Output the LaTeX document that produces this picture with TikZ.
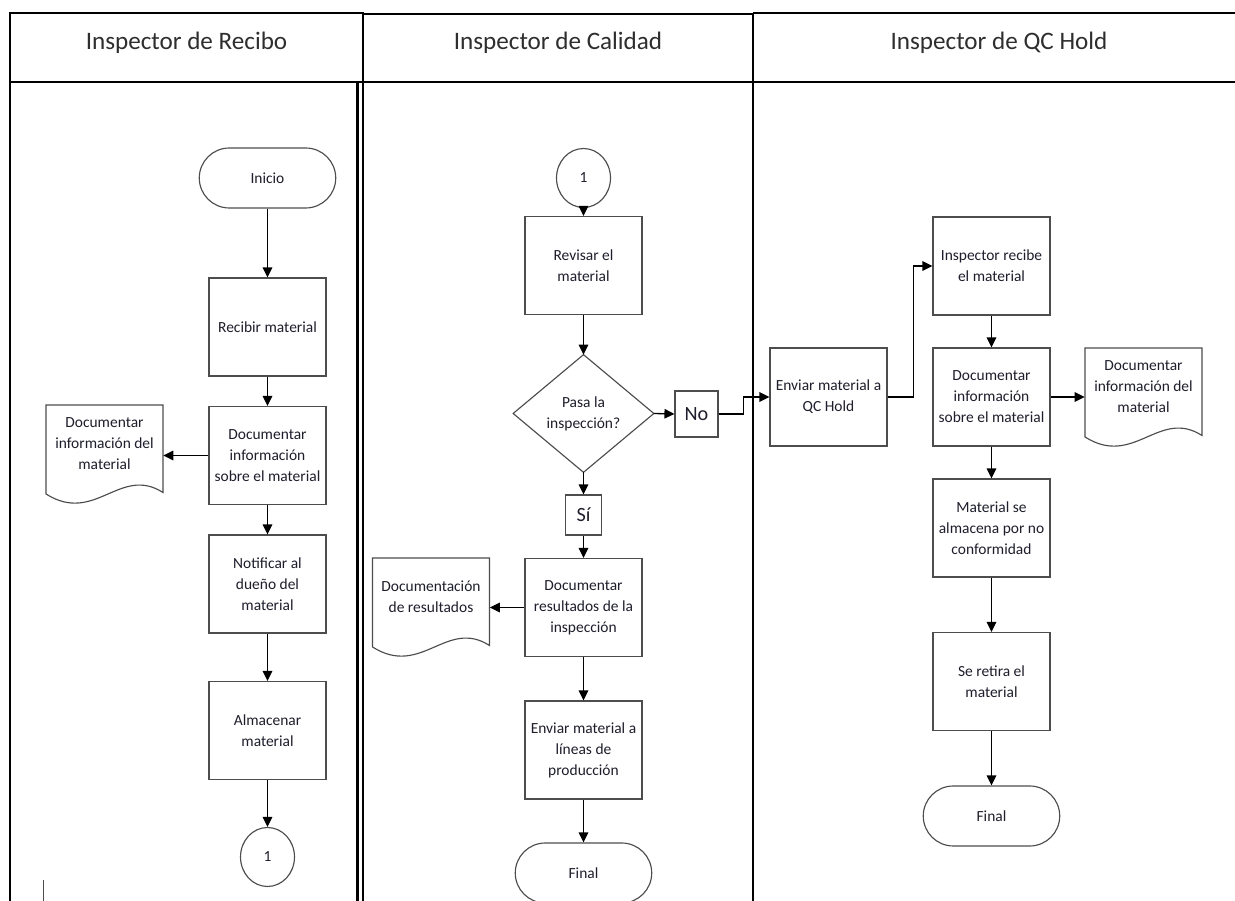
\documentclass[tikz,border=0pt]{standalone}
\usepackage{fontspec}
\setmainfont{Carlito}
\usetikzlibrary{shapes.geometric,shapes.misc,arrows.meta}
\definecolor{boxgray}{HTML}{4D4D4D}
\definecolor{inkcol}{HTML}{1E1E2C}
\definecolor{headcol}{HTML}{2E2E2E}
\newcommand{\boxfont}{\fontsize{8.8}{11.9}\selectfont}
\newcommand{\headfont}{\fontsize{14.3}{17}\selectfont}
\newcommand{\tagfont}{\fontsize{11.5}{13}\selectfont}
% document symbol: straight top and sides, wavy bottom, around a text node
\newcommand{\docoutline}[1]{%
  \draw[docline] ([shift={(-1.17cm,0.78cm)}]#1.center) -- ([shift={(1.17cm,0.78cm)}]#1.center)
    -- ([shift={(1.17cm,-0.97cm)}]#1.center)
    .. controls ([shift={(0.31cm,-0.42cm)}]#1.center) and ([shift={(-0.19cm,-1.62cm)}]#1.center)
    .. ([shift={(-1.17cm,-1.0cm)}]#1.center) -- cycle;}

\begin{document}
\begin{tikzpicture}[x=0.02cm, y=-0.02cm,
  lanerule/.style={line width=1.4pt, draw=black},
  procbox/.style={rectangle, draw=boxgray, line width=0.65pt, minimum width=2.34cm, minimum height=1.96cm, inner sep=1pt, align=center, font=\boxfont, text=inkcol},
  terminal/.style={rounded rectangle, draw=boxgray, line width=0.65pt, minimum width=2.8cm, minimum height=1.2cm, inner sep=1pt, font=\boxfont, text=inkcol},
  offpage/.style={ellipse, draw=boxgray, line width=0.65pt, minimum width=1.08cm, minimum height=1.18cm, inner sep=0pt, font=\boxfont, text=inkcol},
  decisionarea/.style={rectangle, minimum width=2.8cm, minimum height=2.34cm, inner sep=0pt, align=center, font=\boxfont, text=inkcol},
  doctext/.style={rectangle, minimum width=2.34cm, inner sep=0pt, align=center, font=\boxfont, text=inkcol},
  answer/.style={rectangle, draw=boxgray, line width=0.65pt, inner sep=0pt, font=\tagfont, text=inkcol},
  docline/.style={draw=boxgray, line width=0.65pt},
  flow/.style={draw=black, line width=0.75pt, -{Triangle[length=2mm,width=1.9mm]}},
  lanetitle/.style={font=\headfont, text=headcol}
]
\path[use as bounding box, clip] (0,0) rectangle (1235,901);
\fill[white] (0,0) rectangle (1235,901);

% swimlane frame
\draw[lanerule] (10,13) rectangle (363,82);
\draw[lanerule] (363,14) rectangle (753,82);
\draw[lanerule] (753,13) -- (1240,13);
\draw[lanerule] (753,82) -- (1240,82);
\draw[lanerule] (10,82) -- (10,905);
\draw[line width=1.2pt] (357.5,82) -- (357.5,905);
\draw[lanerule] (363,82) -- (363,905);
\draw[lanerule] (753,82) -- (753,905);
\draw[line width=0.5pt, black!70] (43,880) -- (43,905);

\node[lanetitle] (t1) at (186.5,43) {Inspector de Recibo};
\node[lanetitle] (t2) at (558,43) {Inspector de Calidad};
\node[lanetitle] (t3) at (999,43) {Inspector de QC Hold};

% lane 1
\node[terminal] (inicio) at (267.5,178) {Inicio};
\node[procbox] (recibir) at (267.5,327) {Recibir material};
\node[procbox] (docrec) at (267.5,455.5) {Documentar\\información\\sobre el material};
\node[procbox] (notif) at (267.5,584) {Notificar al\\dueño del\\material};
\node[procbox] (almac) at (267.5,730.5) {Almacenar\\material};
\node[offpage] (salida) at (267.5,857) {1};
\node[doctext] (regrec) at (104.5,444) {Documentar\\información del\\material};
\docoutline{regrec}

% lane 2
\node[offpage] (entrada) at (583.5,178) {1};
\node[procbox] (revisar) at (583.5,265.5) {Revisar el\\material};
\node[decisionarea] (pasa) at (583.5,413.5) {Pasa la\\inspección?};
\draw[docline] (pasa.north) -- (pasa.east) -- (pasa.south) -- (pasa.west) -- cycle;
\node[answer, minimum width=0.86cm, minimum height=0.92cm] (no) at (696.5,414) {No};
\node[answer, minimum width=0.72cm, minimum height=0.8cm] (si) at (583.5,515) {Sí};
\node[procbox] (docres) at (583.5,607.5) {Documentar\\resultados de la\\inspección};
\node[doctext] (regres) at (431,597) {Documentación\\de resultados};
\docoutline{regres}
\node[procbox] (lineas) at (583.5,750) {Enviar material a\\líneas de\\producción};
\node[terminal] (finalc) at (583.5,873) {Final};

% lane 3
\node[procbox] (enviarqc) at (828.5,397) {Enviar material a\\QC Hold};
\node[procbox] (recibeqc) at (991.5,266) {Inspector recibe\\el material};
\node[procbox] (docqc) at (991.5,397) {Documentar\\información\\sobre el material};
\node[doctext] (regqc) at (1143.5,387) {Documentar\\información del\\material};
\docoutline{regqc}
\node[procbox] (noconf) at (991.5,528) {Material se\\almacena por no\\conformidad};
\node[procbox] (retira) at (991.5,681.5) {Se retira el\\material};
\node[terminal] (finalqc) at (991.5,816) {Final};

% connectors
\draw[flow] (inicio.south) -- (recibir.north);
\draw[flow] (recibir.south) -- (docrec.north);
\draw[flow] (docrec.south) -- (notif.north);
\draw[flow] (notif.south) -- (almac.north);
\draw[flow] (almac.south) -- (salida.north);
\draw[flow] (docrec.west) -- (docrec.west -| regrec.east);

\draw[flow] (entrada.south) -- (revisar.north);
\draw[flow] (revisar.south) -- (pasa.north);
\draw[flow] (pasa.east) -- (no.west);
\draw[flow] (pasa.south) -- (si.north);
\draw[flow] (si.south) -- (docres.north);
\draw[flow] (docres.west) -- (docres.west -| regres.east);
\draw[flow] (docres.south) -- (lineas.north);
\draw[flow] (lineas.south) -- (finalc.north);

\draw[flow] (no.east) -- ++(25,0) |- (enviarqc.west);
\draw[flow] (enviarqc.east) -- ++(26,0) |- (recibeqc.west);
\draw[flow] (recibeqc.south) -- (docqc.north);
\draw[flow] (docqc.east) -- (docqc.east -| regqc.west);
\draw[flow] (docqc.south) -- (noconf.north);
\draw[flow] (noconf.south) -- (retira.north);
\draw[flow] (retira.south) -- (finalqc.north);
\end{tikzpicture}
\end{document}
